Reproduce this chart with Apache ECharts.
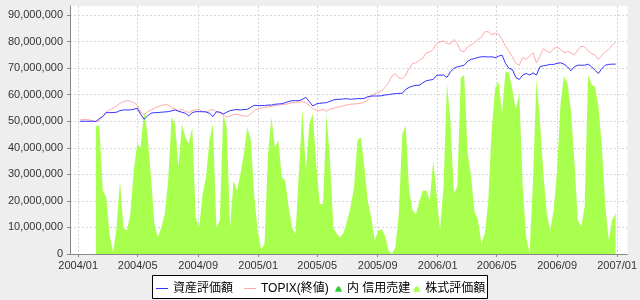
<!DOCTYPE html>
<html><head><meta charset="utf-8">
<script src="https://cdn.jsdelivr.net/npm/echarts@6/dist/echarts.min.js"></script>
<style>html,body{margin:0;padding:0;background:#eeeeee;}#c{width:640px;height:300px;}</style>
</head><body><div id="c"></div><script>
// Weekly observation dates
const dates = [
'2004-01-05','2004-01-09','2004-01-16','2004-01-23','2004-01-30','2004-02-06','2004-02-13','2004-02-20','2004-02-27','2004-03-05','2004-03-12','2004-03-19','2004-03-26',
'2004-04-02','2004-04-09','2004-04-16','2004-04-23','2004-04-30','2004-05-07','2004-05-14','2004-05-21','2004-05-28','2004-06-04','2004-06-11','2004-06-18','2004-06-25',
'2004-07-02','2004-07-09','2004-07-16','2004-07-23','2004-07-30','2004-08-06','2004-08-13','2004-08-20','2004-08-27','2004-09-03','2004-09-10','2004-09-17','2004-09-24',
'2004-10-01','2004-10-08','2004-10-15','2004-10-22','2004-10-29','2004-11-05','2004-11-12','2004-11-19','2004-11-26','2004-12-03','2004-12-10','2004-12-17','2004-12-24','2004-12-31',
'2005-01-07','2005-01-14','2005-01-21','2005-01-28','2005-02-04','2005-02-11','2005-02-18','2005-02-25','2005-03-04','2005-03-11','2005-03-18','2005-03-25',
'2005-04-01','2005-04-08','2005-04-15','2005-04-22','2005-04-29','2005-05-06','2005-05-13','2005-05-20','2005-05-27','2005-06-03','2005-06-10','2005-06-17','2005-06-24',
'2005-07-01','2005-07-08','2005-07-15','2005-07-22','2005-07-29','2005-08-05','2005-08-12','2005-08-19','2005-08-26','2005-09-02','2005-09-09','2005-09-16','2005-09-23','2005-09-30',
'2005-10-07','2005-10-14','2005-10-21','2005-10-28','2005-11-04','2005-11-11','2005-11-18','2005-11-25','2005-12-02','2005-12-09','2005-12-16','2005-12-23','2005-12-30',
'2006-01-06','2006-01-13','2006-01-20','2006-01-27','2006-02-03','2006-02-10','2006-02-17','2006-02-24','2006-03-03','2006-03-10','2006-03-17','2006-03-24','2006-03-31',
'2006-04-07','2006-04-14','2006-04-21','2006-04-28','2006-05-05','2006-05-12','2006-05-19','2006-05-26','2006-06-02','2006-06-09','2006-06-16','2006-06-23','2006-06-30',
'2006-07-07','2006-07-14','2006-07-21','2006-07-28','2006-08-04','2006-08-11','2006-08-18','2006-08-25','2006-09-01','2006-09-08','2006-09-15','2006-09-22','2006-09-29',
'2006-10-06','2006-10-13','2006-10-20','2006-10-27','2006-11-03','2006-11-10','2006-11-17','2006-11-24','2006-12-01','2006-12-08','2006-12-15','2006-12-22','2006-12-29'
];
// values in millions of yen
const assetValue = [
50.0,50.0,50.0,50.0,50.0,49.9,51.0,51.75,53.25,53.25,53.25,53.4,54.0,54.25,54.25,54.25,54.5,54.9,52.6,50.75,52.0,53.0,53.25,53.25,53.4,53.5,53.6,53.9,54.25,53.75,53.4,53.0,52.0,53.25,53.6,53.6,53.6,53.5,53.0,51.75,53.6,53.4,52.75,53.4,54.0,54.25,54.4,54.25,54.4,54.5,55.25,56.0,55.9,
55.9,55.9,56.1,56.1,56.4,56.5,56.6,57.0,57.4,57.75,57.75,57.75,58.25,59.0,57.4,55.75,56.5,56.75,56.9,57.0,57.5,58.0,58.25,58.25,58.4,58.5,58.25,58.4,58.5,58.5,58.6,59.25,59.5,59.5,59.5,59.6,59.9,60.0,60.25,60.4,60.5,60.5,62.0,62.75,63.25,63.5,63.6,64.5,65.25,65.5,65.75,67.3,
67.4,67.4,66.5,68.6,69.9,70.5,70.75,71.1,72.6,73.3,73.6,74.0,74.3,74.3,74.2,74.3,73.9,74.5,74.9,71.8,69.9,69.5,66.5,65.7,67.4,68.0,67.4,68.2,67.4,70.5,70.9,71.1,71.4,71.4,71.8,72.0,71.5,70.5,69.0,70.5,71.1,71.1,71.1,71.5,70.5,69.2,68.0,69.9,71.1,71.4,71.5,71.5
];
const topixValue = [
50.5,50.5,50.75,50.5,50.25,49.9,50.25,52.0,53.5,54.25,54.9,55.75,56.75,57.4,57.75,57.6,57.0,56.1,53.4,52.4,53.6,54.25,54.9,55.5,55.9,56.25,56.1,55.1,54.6,54.0,54.5,53.75,53.25,54.0,54.25,54.5,53.6,53.6,54.0,54.5,53.6,53.25,52.4,51.5,52.0,52.5,52.6,52.25,52.0,51.9,52.75,54.0,54.6,
55.0,55.2,55.4,55.6,55.9,56.0,56.25,56.4,56.6,57.0,57.1,57.25,57.4,57.0,56.1,54.75,54.25,54.0,54.5,53.75,54.5,54.9,55.25,55.5,55.9,56.1,56.4,56.5,56.6,56.75,57.25,58.0,59.5,60.5,60.75,61.5,62.75,64.5,67.0,68.0,66.3,66.1,67.4,69.9,71.75,72.0,73.0,73.8,75.75,76.1,77.0,79.2,
79.8,80.3,79.3,79.1,80.8,79.3,76.5,76.2,78.0,78.8,79.6,80.8,81.6,83.7,83.7,82.6,83.1,82.8,80.8,78.3,76.3,74.3,71.8,71.1,74.0,73.3,74.5,75.8,72.0,74.5,77.3,76.5,75.8,77.4,77.8,77.0,75.8,76.3,75.8,75.0,76.8,78.3,78.0,76.5,75.5,74.9,73.3,74.9,76.2,77.0,78.7,79.8
];
const stockValue = [
null,null,null,null,null,48,48.4,24,21.4,7,0.6,10,27.7,10,8.8,15,31.4,41.5,40,54,45,29,11.3,6.3,10,15,27.7,51.6,49,32.7,49,44,41.5,47.8,13.8,10,22.6,29,42.8,49,10,12.6,52.8,47.8,10,27.7,23.9,30.2,37.7,47.8,42.8,22,8.8,
1.9,3.8,37.7,51.6,40,42.8,29,27.7,17.6,10,7.5,31.4,54.7,31.4,49,52.8,34,18.9,18.9,52.8,35.2,10,7.5,6.3,8.2,12.6,17.6,25.2,42.8,44,32.7,20,13.8,5,8.8,9.4,6.9,1.3,0,2.5,15,45,48.4,23.9,16.4,15,20,23.9,23.9,20,35.2,22,
9,25.4,64.4,50,22.9,25.4,66.3,67.5,38,29.2,16,12.8,4,7.8,20,46.8,62.5,65,53,68.8,68.2,61.9,54.3,60.6,25.4,6.5,0.3,27.9,65.7,50.6,30.4,15.3,9,16.6,31.7,56.9,66.9,64.4,54.3,35.5,12.8,10.3,17.9,67.5,63.8,63.1,55.6,40.5,17.9,5.3,12.8,15.3
];
const shortSellValue = []; // 内 信用売建: nothing visible in the reference
const xTickDates = ['2004-01-01','2004-05-01','2004-09-01','2005-01-01','2005-05-01','2005-09-01','2006-01-01','2006-05-01','2006-09-01','2007-01-01'];
const xRange = ['2003-12-15','2007-01-22'];
const yTicks = [0,10000000,20000000,30000000,40000000,50000000,60000000,70000000,80000000,90000000];
const names = ['資産評価額','TOPIX(終値)','内 信用売建','株式評価額'];

const M = 1000000;
const ts = s => Date.parse(s + 'T00:00:00Z');
const toPairs = arr => dates.map((d, i) => [ts(d), arr[i] == null ? '-' : arr[i] * M]);
const pad = n => (n < 10 ? '0' : '') + n;
const axisFont = "'Liberation Sans', Arial, sans-serif";
const legendFont = "'Liberation Sans', 'Noto Sans CJK JP', sans-serif";
const bell = 'path://M0,6 L1.6,2 Q3.5,-1.2 5.4,2 L7,6 Z';
const bar = 'path://M0,0 L12,0 L12,1 L0,1 Z';
const xTickVals = xTickDates.map(ts);

const chart = echarts.init(document.getElementById('c'), null, {renderer: 'canvas'});
chart.setOption({
  animation: false,
  backgroundColor: '#eeeeee',
  grid: {left: 70, right: 8, top: 6, bottom: 46, show: true, backgroundColor: '#ffffff', borderWidth: 0},
  graphic: [{type: 'rect', z: 0, shape: {x: 152.5, y: 275.5, width: 335, height: 23}, style: {fill: '#ffffff', stroke: '#000000', lineWidth: 1}}],
  xAxis: {
    type: 'value', min: ts(xRange[0]) + 8 * 3600000, max: ts(xRange[1]),
    axisLine: {lineStyle: {color: '#888888'}},
    axisTick: {customValues: xTickVals, length: 3, lineStyle: {color: '#888888'}},
    axisLabel: {customValues: xTickVals, margin: 6, color: '#333333', fontSize: 11, fontFamily: axisFont,
      formatter: v => { const d = new Date(v); return d.getUTCFullYear() + '/' + pad(d.getUTCMonth() + 1); }},
    splitLine: {show: true, lineStyle: {color: '#d4d4d4', type: [2, 2], width: 1}}
  },
  yAxis: {
    type: 'value', min: 0, max: 93400000,
    axisLine: {show: true, lineStyle: {color: '#888888'}},
    axisTick: {show: true, customValues: yTicks, length: 3, lineStyle: {color: '#888888'}},
    axisLabel: {customValues: yTicks, margin: 7, color: '#333333', fontSize: 11, fontFamily: axisFont,
      formatter: v => Math.round(v).toString().replace(/\B(?=(\d{3})+(?!\d))/g, ',')},
    splitLine: {show: true, lineStyle: {color: '#d4d4d4', type: [2, 2], width: 1}}
  },
  legend: [
    {left: 156, top: 282.5, padding: 0, itemWidth: 12, itemHeight: 12, itemGap: 11,
     textStyle: {fontSize: 12, color: '#000', fontFamily: legendFont},
     data: [{name: names[0], icon: bar, itemStyle: {borderWidth: 0}}, {name: names[1], icon: bar, itemStyle: {borderWidth: 0}}]},
    {left: 335, top: 283, padding: 0, itemWidth: 7, itemHeight: 6, itemGap: 3,
     textStyle: {fontSize: 12, color: '#000', fontFamily: legendFont},
     data: [{name: names[2], icon: bell, itemStyle: {borderWidth: 0}}, {name: names[3], icon: bell, itemStyle: {borderWidth: 0}}]}
  ],
  series: [
    {name: names[3], type: 'line', data: toPairs(stockValue), symbol: 'none', color: '#a8ff4d',
     lineStyle: {width: 0}, areaStyle: {color: '#a8ff4d', opacity: 1}, z: 1},
    {name: names[2], type: 'line', data: shortSellValue, symbol: 'none', color: '#33cc33',
     lineStyle: {width: 0}, areaStyle: {color: '#33cc33', opacity: 1}, z: 2},
    {name: names[1], type: 'line', data: toPairs(topixValue), symbol: 'none', color: '#ffaaaa',
     lineStyle: {width: 1, color: '#ffaaaa'}, z: 3},
    {name: names[0], type: 'line', data: toPairs(assetValue), symbol: 'none', color: '#3333ff',
     lineStyle: {width: 1, color: '#3333ff'}, z: 4}
  ]
});
</script></body></html>
